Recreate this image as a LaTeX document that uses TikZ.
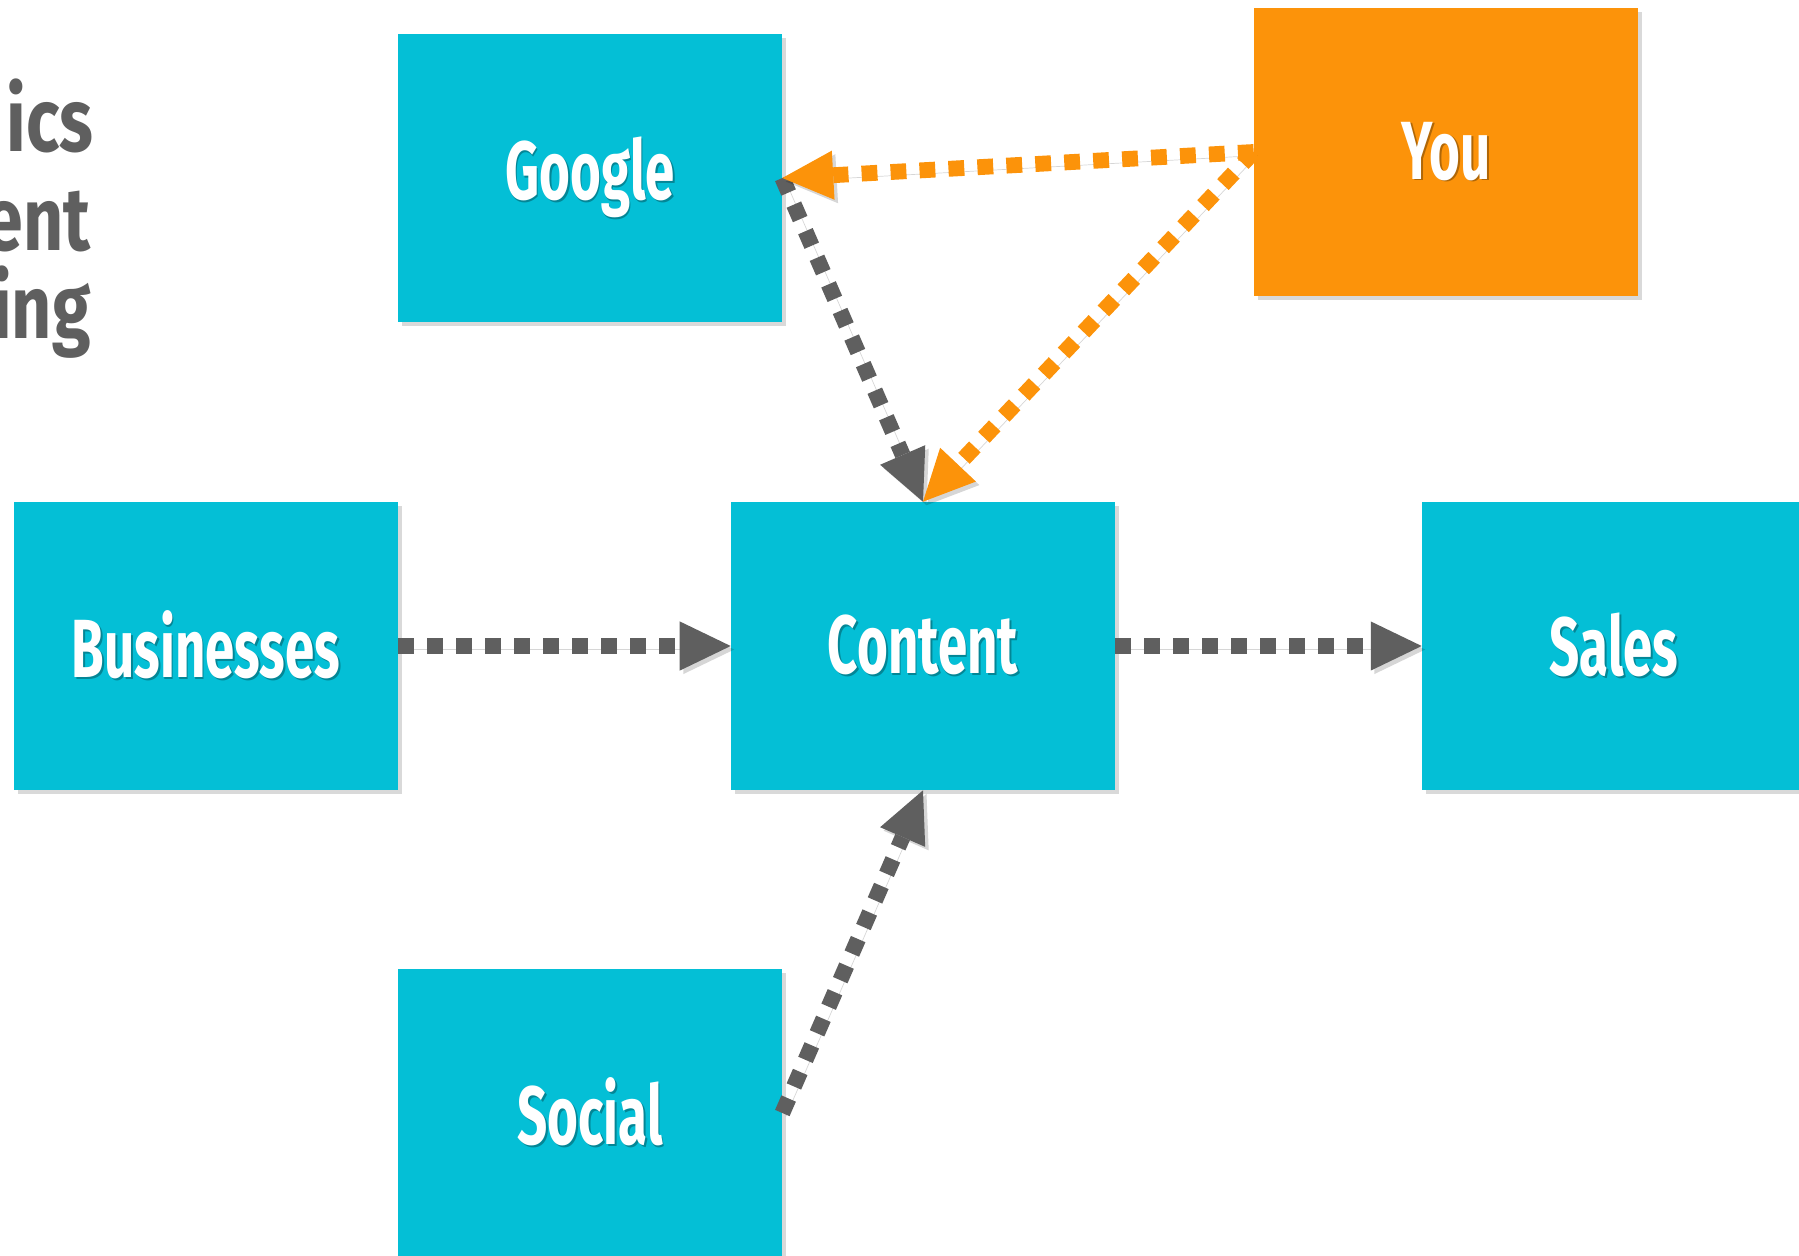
\documentclass[tikz,border=0pt]{standalone}
\usepackage{fontspec}
\newfontfamily\osw[FakeStretch=0.64]{Fira Sans}
\newfontfamily\oswt[FakeStretch=0.78]{Fira Sans}
\usetikzlibrary{arrows.meta,shadows}
\definecolor{boxcyan}{HTML}{04BFD6}
\definecolor{boxorange}{HTML}{FC930A}
\definecolor{arrgray}{HTML}{5F5F5F}
\newcommand\tsh[2]{\makebox[0pt][l]{\hspace{1pt}\raisebox{-1pt}{\color{#1}#2}}#2}
\tikzset{
  box/.style={rectangle, minimum width=7.68cm, minimum height=5.76cm, inner sep=0pt,
    font=\osw\bfseries\fontsize{47}{50}\selectfont, text=white,
    drop shadow={shadow xshift=2.5pt, shadow yshift=-2.5pt, opacity=0.3}},
  cyanbox/.style={box, fill=boxcyan},
  orangebox/.style={box, fill=boxorange},
  conn/.style={line width=9pt, dash pattern=on 9pt off 7.5pt,
    -{Triangle[length=29pt,width=28pt,line width=0pt]},
    preaction={draw=black, opacity=0.16, transform canvas={shift={(2pt,-2pt)}}}},
  grayconn/.style={conn, draw=arrgray},
  orangeconn/.style={conn, draw=boxorange},
  titletxt/.style={anchor=base east, inner sep=0pt, text=arrgray,
    font=\oswt\bfseries\fontsize{51}{54}\selectfont}
}
\begin{document}
\begin{tikzpicture}[x=0.02cm, y=-0.02cm]
\useasboundingbox (0,0) rectangle (1799,1255);
\clip (0,0) rectangle (1799,1255);
\node[titletxt] (t1) at (94,151) {ics};
\node[titletxt] (t2) at (91,250) {ent};
\node[titletxt] (t3) at (91,338) {ing};
\node[cyanbox] (google) at (590,178) {\tsh{boxcyan!70!black}{Google}};
\node[orangebox] (you) at (1446,152) {\tsh{boxorange!70!black}{You}};
\node[cyanbox] (business) at (206,646) {\tsh{boxcyan!70!black}{Businesses}};
\node[cyanbox] (content) at (923,646) {\tsh{boxcyan!70!black}{Content}};
\node[cyanbox] (sales) at (1614,646) {\tsh{boxcyan!70!black}{Sales}};
\node[cyanbox] (social) at (590,1113) {\tsh{boxcyan!70!black}{Social}};
\draw[grayconn] (business.east) -- (content.west);
\draw[grayconn] (content.east) -- (sales.west);
\draw[grayconn] (google.east) -- (content.north);
\draw[grayconn] (social.east) -- (content.south);
\draw[orangeconn] (you.west) -- (google.east);
\draw[orangeconn] (you.west) -- (content.north);
\end{tikzpicture}
\end{document}
